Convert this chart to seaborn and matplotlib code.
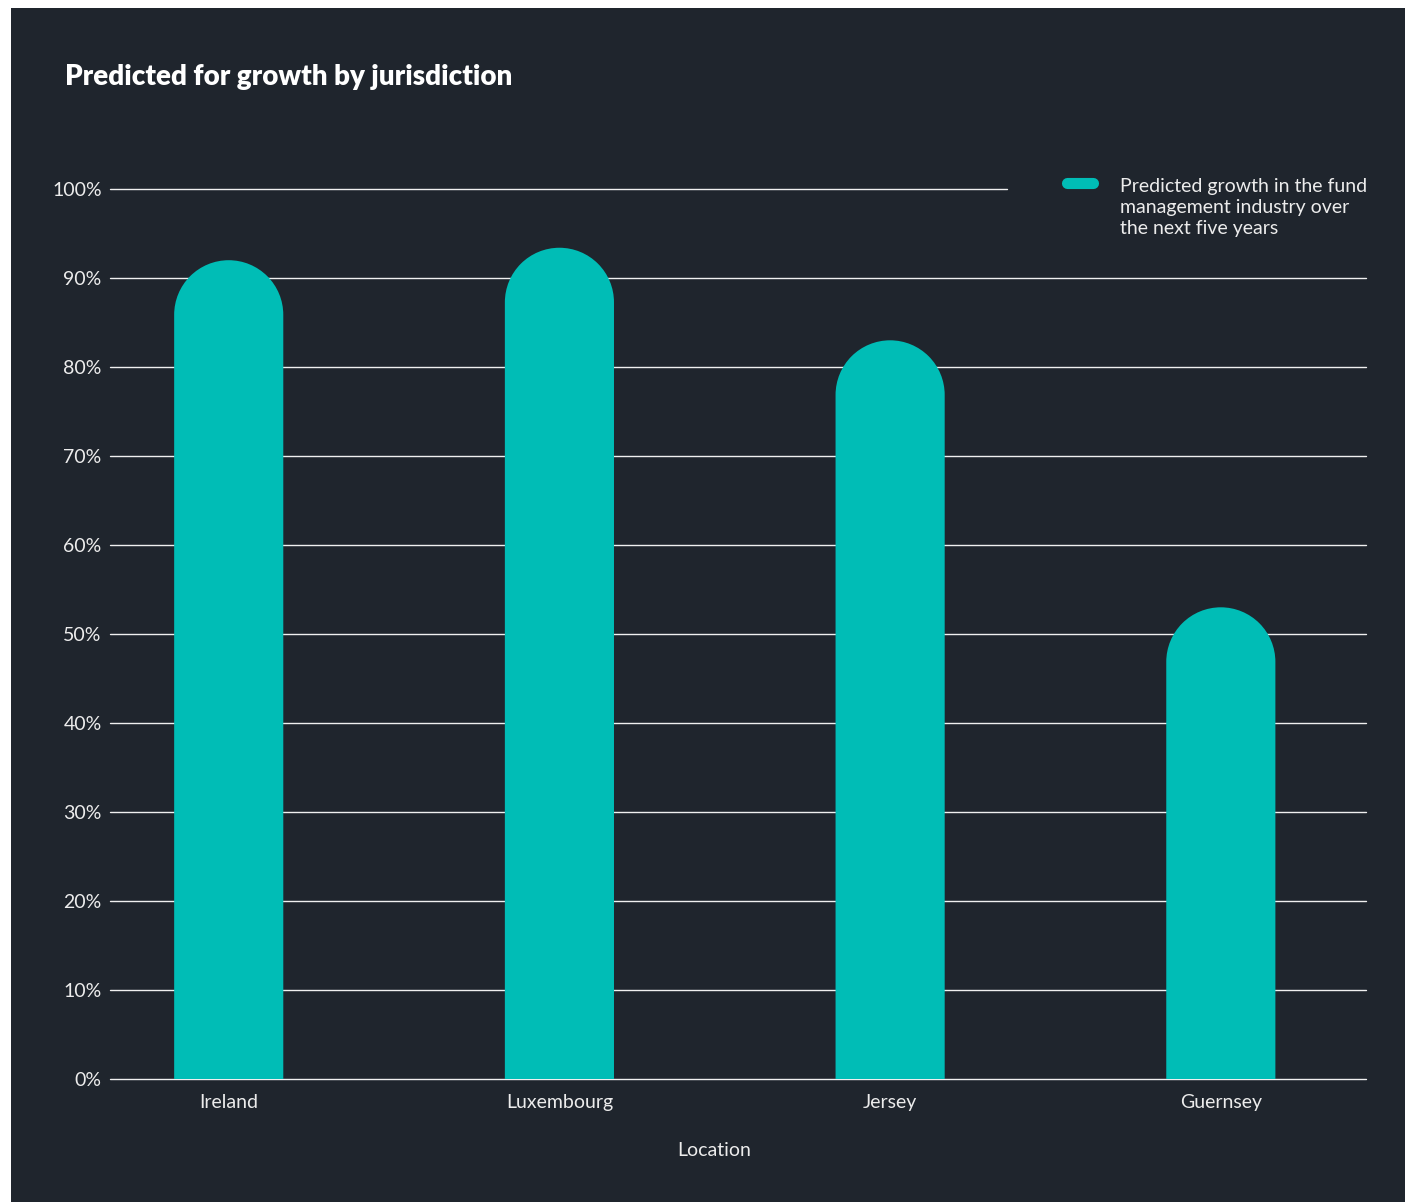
import matplotlib
matplotlib.use("Agg")
import matplotlib.pyplot as plt
import seaborn as sns
import pandas as pd
import numpy as np
from matplotlib.patches import Rectangle, PathPatch
from matplotlib.path import Path
from matplotlib.transforms import Affine2D
from matplotlib.lines import Line2D
from matplotlib.legend_handler import HandlerLine2D

# ---- data ----
locations = ["Ireland", "Luxembourg", "Jersey", "Guernsey"]
growth = [92.0, 93.4, 83.0, 53.0]
y_ticks = [0, 10, 20, 30, 40, 50, 60, 70, 80, 90, 100]
y_tick_labels = [f"{v}%" for v in y_ticks]
series_label = "Predicted growth in the fund\nmanagement industry over\nthe next five years"
title = "Predicted for growth by jurisdiction"
x_label = "Location"

BG = "#1f252d"
TEAL = "#00bdb6"
TXT = "#ececec"

sns.set_theme(style="dark")
plt.rcParams["font.family"] = ["Lato", "DejaVu Sans"]

W, H = 1405, 1202
fig = plt.figure(figsize=(W / 100, H / 100), dpi=100, facecolor="white")
fig.patches.append(Rectangle((11 / W, 0), 1 - 11 / W, 1 - 8 / H, transform=fig.transFigure,
                             facecolor=BG, edgecolor="none", zorder=-10))

ax = fig.add_axes([110 / W, 1 - 1079 / H, 1256 / W, 890 / H])
ax.set_facecolor("none")

df = pd.DataFrame({"Location": locations, "Growth": growth})
sns.barplot(data=df, x="Location", y="Growth", color=TEAL, width=0.33, saturation=1,
            ax=ax, zorder=3, linewidth=0)

ax.set_xlim(-0.359, 3.439)
ax.set_ylim(0, 100)

# gridlines
for v in y_ticks:
    xmax = (1007 - 110) / 1256 if v == 100 else 1.0
    ax.axhline(v, xmin=0, xmax=xmax, color="#f0f0f0", lw=1.0, zorder=1, clip_on=False)

# rounded bar tops: replace each bar rectangle with a single capsule-top path
p0 = ax.transData.transform((0, 0))
p1 = ax.transData.transform((1, 1))
sx, sy = p1[0] - p0[0], p1[1] - p0[1]
for p in list(ax.patches):
    x0, y0, w, h = p.get_x(), p.get_y(), p.get_width(), p.get_height()
    ry = (w / 2) * sx / sy
    cx = x0 + w / 2
    arc = Affine2D().scale(w / 2, ry).translate(cx, y0 + h - ry).transform_path(Path.arc(0, 180))
    av = arc.vertices
    ac = arc.codes.copy()
    ac[0] = Path.LINETO
    verts = np.vstack([[[x0, y0], [x0 + w, y0]], av, [[x0, y0], [x0, y0]]])
    codes = np.concatenate([[Path.MOVETO, Path.LINETO], ac, [Path.LINETO, Path.CLOSEPOLY]])
    p.set_visible(False)
    ax.add_patch(PathPatch(Path(verts, codes), facecolor=TEAL, edgecolor="none", zorder=3))

for s in ax.spines.values():
    s.set_visible(False)

ax.set_yticks(y_ticks)
ax.set_yticklabels(y_tick_labels)
ax.tick_params(axis="y", length=0, pad=6, labelcolor=TXT, labelsize=14)
ax.tick_params(axis="x", length=0, pad=11, labelcolor=TXT, labelsize=14)
ax.set_ylabel("")
ax.set_xlabel(x_label, color=TXT, fontsize=14)
ax.xaxis.set_label_coords((714 - 110) / 1256, -(1142 - 1079) / 890)


class TopHandler(HandlerLine2D):
    def create_artists(self, legend, orig_handle, xdescent, ydescent, width, height,
                       fontsize, trans):
        arts = super().create_artists(legend, orig_handle, xdescent, ydescent, width,
                                      height, fontsize, trans)
        for a in arts:
            a.set_ydata([y + 17.5 for y in a.get_ydata()])
        return arts


handle = Line2D([0], [0], color=TEAL, lw=8, solid_capstyle="round")
leg = ax.legend([handle], [series_label], loc="upper left",
                bbox_to_anchor=(1067 / W, 1 - 178 / H), bbox_transform=fig.transFigure,
                frameon=False, fontsize=14, handlelength=1.35, handletextpad=1.35,
                borderpad=0, borderaxespad=0, labelcolor=TXT,
                handler_map={Line2D: TopHandler()})
for t in leg.get_texts():
    t.set_linespacing(1.28)

fig.text(65 / W, 1 - 77 / H, title, color="white", fontsize=20, fontweight="heavy",
         va="center", ha="left")

fig.savefig("out.png", dpi=100, facecolor=fig.get_facecolor())
